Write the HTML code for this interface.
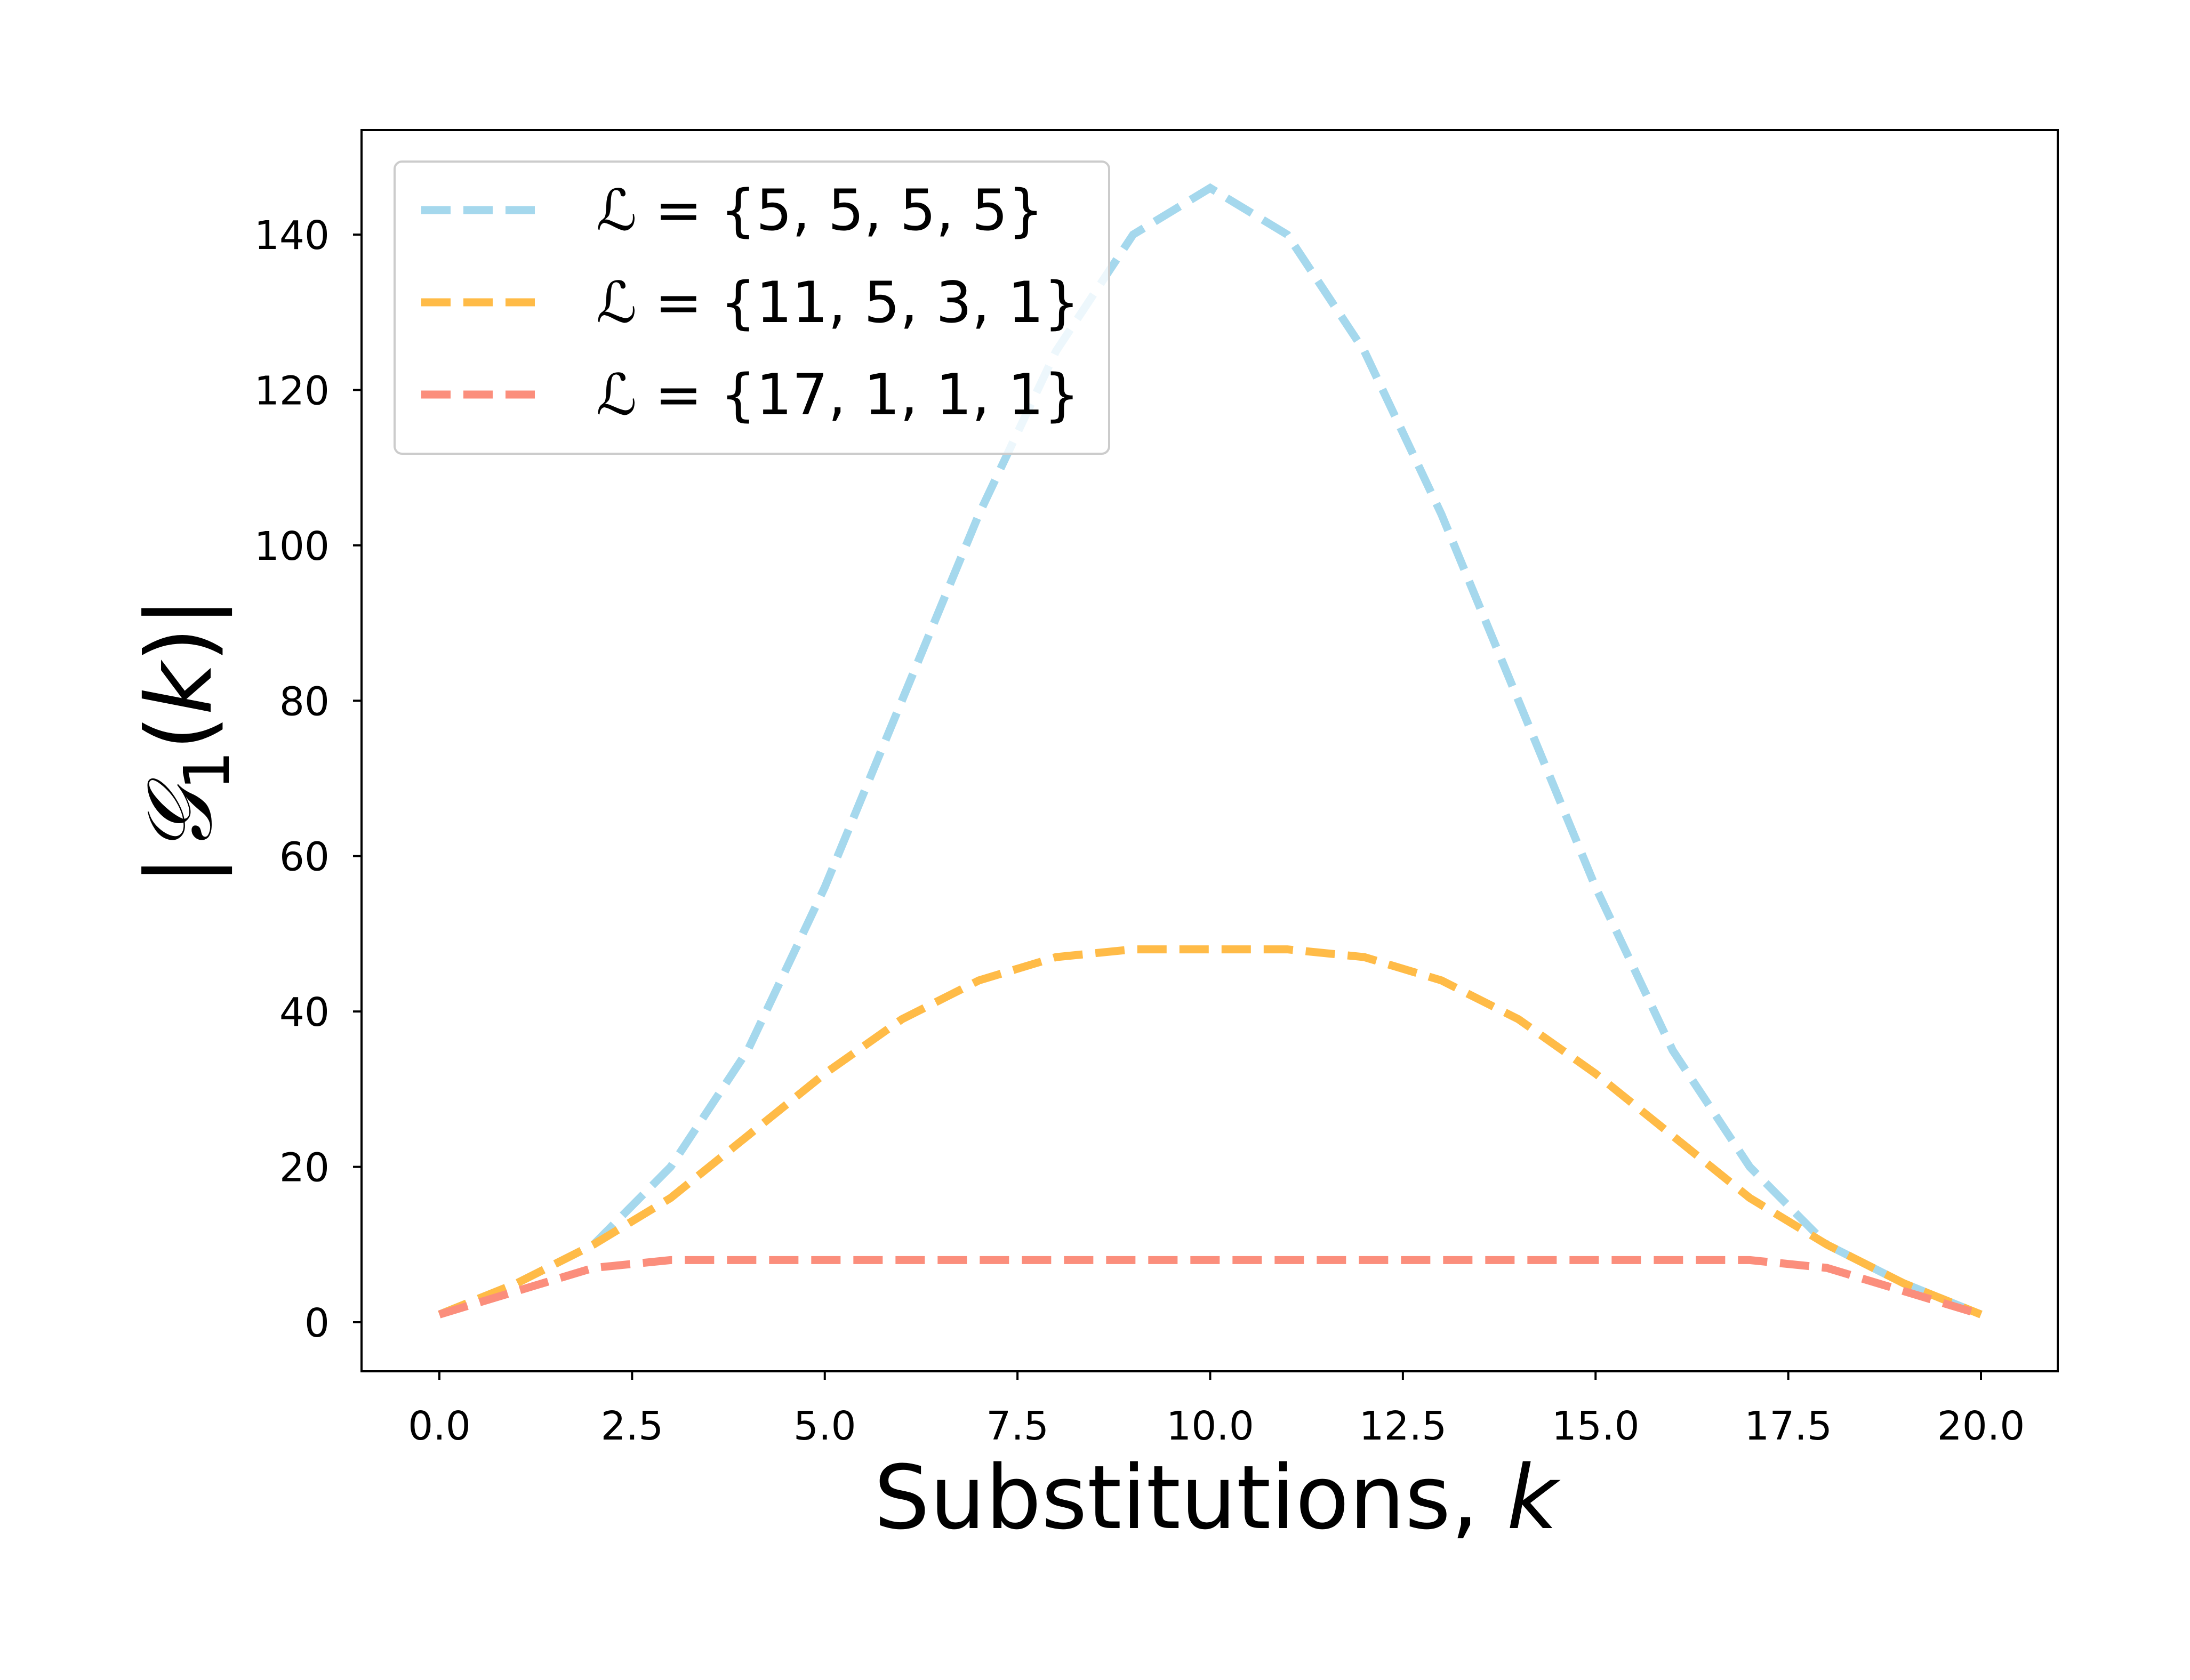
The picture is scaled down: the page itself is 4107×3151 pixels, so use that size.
<!DOCTYPE html>
<html><head><meta charset="utf-8"><style>
html,body{margin:0;padding:0;background:#fff}
svg text{font-family:"DejaVu Sans","Liberation Sans",sans-serif}
</style></head><body>
<svg width="4107" height="3146" viewBox="0 0 4107 3146" xmlns="http://www.w3.org/2000/svg">
<rect width="4107" height="3146" fill="#fff"/>
<g id="plot"></g>
<g id="axes"></g>
<text x="2280" y="2866" font-size="165" text-anchor="middle">Substitutions, <tspan font-style="italic">k</tspan></text>
<text transform="translate(395,1390) rotate(-90)" font-size="170" text-anchor="middle">|<tspan font-family="Liberation Serif" font-style="italic">𝒢</tspan><tspan font-size="118" dy="34">1</tspan><tspan dy="-34">(</tspan><tspan font-style="italic">k</tspan>)|</text>
<g id="legend"></g>
</svg>
<script>
const ks=[0,1,2,3,4,5,6,7,8,9,10,11,12,13,14,15,16,17,18,19,20];
const blueVals=[1,5,10,20,35,56,80,104,125,140,146,140,125,104,80,56,35,20,10,5,1];
const orangeVals=[1,5,10,16,24,32,39,44,47,48,48,48,47,44,39,32,24,16,10,5,1];
const redVals=[1,4,7,8,8,8,8,8,8,8,8,8,8,8,8,8,8,8,7,4,1];
const seriesLabels=["ℒ = {5, 5, 5, 5}","ℒ = {11, 5, 3, 1}","ℒ = {17, 1, 1, 1}"];
const xTicks=[0,2.5,5,7.5,10,12.5,15,17.5,20];
const xTickLabels=["0.0","2.5","5.0","7.5","10.0","12.5","15.0","17.5","20.0"];
const yTicks=[0,20,40,60,80,100,120,140];
const NS="http://www.w3.org/2000/svg";
const L=678,T=244,R=3859,B=2572;
const X=v=>824+(3715-824)*v/20;
const Y=v=>2480-(2480-440)*v/140;
function mk(tag,attrs,parent){const e=document.createElementNS(NS,tag);for(const k in attrs)e.setAttribute(k,attrs[k]);parent.appendChild(e);return e;}
const plot=document.getElementById('plot'),axes=document.getElementById('axes'),leg=document.getElementById('legend');
const colors=["#a5d8ed","#ffbb47","#fb8e7c"];
const data=[blueVals,orangeVals,redVals];
const names=["line-5-5-5-5","line-11-5-3-1","line-17-1-1-1"];
data.forEach((vals,i)=>{
  const p=mk('polyline',{points:ks.map((k,j)=>X(k)+','+Y(vals[j])).join(' '),fill:'none',stroke:colors[i],'stroke-width':15,'stroke-dasharray':'55,24'},plot);
  
  
});
const frame=mk('rect',{x:L,y:T,width:R-L,height:B-T,fill:'none',stroke:'#000','stroke-width':4},axes);


xTicks.forEach((v,i)=>{
  const t=mk('line',{x1:X(v),x2:X(v),y1:B,y2:B+16,stroke:'#000','stroke-width':4},axes);
  
  
  const l=mk('text',{x:X(v),y:B+128,'font-size':74,'text-anchor':'middle'},axes);
  l.textContent=xTickLabels[i];
  
  
});
yTicks.forEach(v=>{
  const t=mk('line',{x1:L-16,x2:L,y1:Y(v),y2:Y(v),stroke:'#000','stroke-width':4},axes);
  
  
  const l=mk('text',{x:L-60,y:Y(v)+27,'font-size':74,'text-anchor':'end'},axes);
  l.textContent=String(v);
  
  
});
const box=mk('rect',{x:740,y:303,width:1340,height:548,rx:14,fill:'#fff','fill-opacity':0.8,stroke:'#ccc','stroke-width':4},leg);


seriesLabels.forEach((s,i)=>{
  const y=394+i*173;
  const ln=mk('line',{x1:790,x2:1022,y1:y,y2:y,stroke:colors[i],'stroke-width':15,'stroke-dasharray':'55,24'},leg);
  
  
  const tx=mk('text',{x:1118,y:y+37,'font-size':106},leg);
  tx.textContent=s;
  
  
});
</script>
</body></html>
